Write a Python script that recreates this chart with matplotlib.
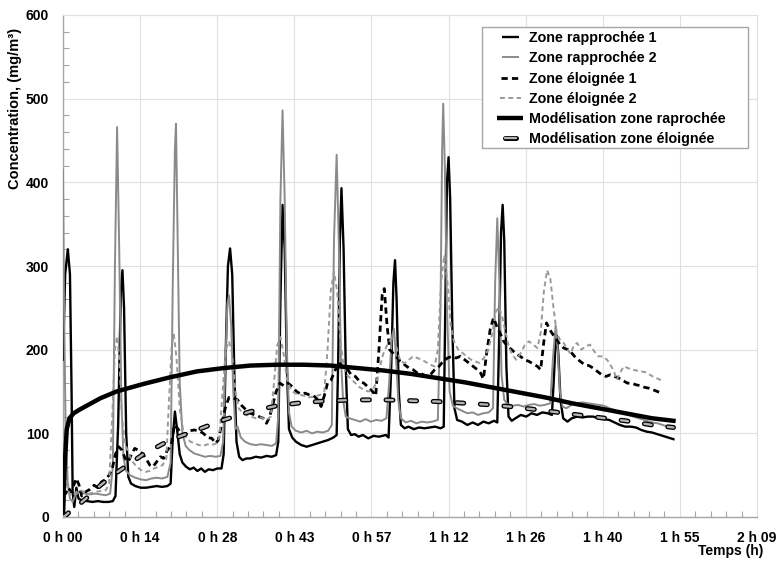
import matplotlib
matplotlib.use('Agg')
import matplotlib.pyplot as plt
from matplotlib.ticker import MultipleLocator
from matplotlib.lines import Line2D
from matplotlib.patches import Rectangle
from matplotlib.legend_handler import HandlerBase

plt.rcParams['font.family'] = ['Liberation Sans', 'DejaVu Sans']
plt.rcParams['lines.scale_dashes'] = False

# ---------------- data (time in minutes, concentration in mg/m3) ----------------
x_ticks = [0, 14.4, 28.8, 43.2, 57.6, 72.0, 86.4, 100.8, 115.2, 129.6]
x_tick_labels = ["0 h 00", "0 h 14", "0 h 28", "0 h 43", "0 h 57",
                 "1 h 12", "1 h 26", "1 h 40", "1 h 55", "2 h 09"]
y_ticks = [0, 100, 200, 300, 400, 500, 600]

labels = ["Zone rapprochée 1", "Zone rapprochée 2", "Zone éloignée 1",
          "Zone éloignée 2", "Modélisation zone raprochée", "Modélisation zone éloignée"]

t_r1 = [0.0, 0.4, 0.9, 1.3, 1.6, 1.8, 2.1, 2.5, 2.9, 3.5, 4.5, 5.5, 6.5, 7.5, 8.5, 9.3, 9.8,
        10.3, 10.8, 11.1, 11.4, 11.8, 12.2, 12.7, 13.5, 14.5, 15.5, 16.5, 17.5, 18.5, 19.5,
        20.1, 20.5, 20.9, 21.3, 21.8, 22.3, 23.0, 23.7, 24.4, 25.1, 25.8, 26.5, 27.2, 28.0,
        28.8, 29.6, 30.0, 30.4, 30.8, 31.2, 31.6, 32.0, 32.4, 32.9, 33.5, 34.3, 35.0, 36.0,
        37.0, 38.0, 39.0, 39.8, 40.2, 40.6, 41.0, 41.4, 41.8, 42.2, 42.8, 43.5, 44.5, 45.5,
        46.5, 47.5, 48.5, 49.5, 50.5, 51.1, 51.4, 51.7, 52.0, 52.4, 52.8, 53.2, 53.8, 54.5,
        55.2, 56.0, 57.0, 58.0, 59.0, 60.3, 60.8, 61.3, 61.7, 62.0, 62.3, 62.7, 63.1, 63.8,
        64.5, 65.5, 66.5, 67.5, 68.5, 69.5, 70.5, 71.1, 71.4, 71.7, 72.0, 72.3, 72.7, 73.1,
        73.6, 74.5, 75.5, 76.5, 77.5, 78.5, 79.5, 80.5, 81.1, 81.4, 81.8, 82.1, 82.4, 82.8,
        83.2, 83.8, 84.5, 85.5, 86.5, 87.5, 88.5, 89.5, 90.5, 91.3, 91.7, 92.0, 92.2, 92.5,
        92.9, 93.4, 94.2, 95.0, 96.0, 97.0, 98.0, 99.0, 100.0, 101.0, 102.0, 103.0, 104.0,
        105.0, 106.0, 107.0, 108.0, 109.0, 110.0, 111.0, 112.0, 113.0, 114.0]
v_r1 = [188, 290, 320, 290, 150, 30, 12, 35, 22, 20, 19, 18, 19, 18, 18, 19, 25,
        110, 270, 295, 250, 100, 48, 40, 37, 35, 35, 36, 37, 36, 37,
        40, 95, 126, 105, 75, 65, 60, 57, 59, 55, 58, 54, 57, 56,
        58, 58, 75, 200, 300, 321, 290, 170, 90, 72, 68, 70, 70, 72,
        71, 73, 72, 74, 90, 260, 373, 320, 180, 105, 95, 90, 86, 84,
        86, 88, 90, 92, 95, 98, 190, 330, 393, 320, 180, 105, 98, 99,
        96, 98, 94, 97, 96, 98, 95, 180, 280, 307, 260, 150, 110, 106,
        108, 105, 107, 106, 107, 108, 106, 108, 250, 400, 430, 380, 230, 130,
        116, 114, 110, 113, 110, 114, 112, 115, 113, 200, 340, 373, 330, 180,
        120, 115, 118, 122, 120, 124, 122, 125, 124, 122, 170, 210, 217, 195,
        140, 118, 114, 118, 120, 119, 120, 120, 118, 117, 116, 113, 110,
        108, 108, 107, 104, 102, 101, 99, 97, 95, 93]

t_r2 = [0.0, 0.2, 0.5, 0.9, 1.3, 1.8, 2.3, 3.0, 4.0, 5.0, 6.0, 7.0, 8.0, 8.8, 9.3, 9.7, 10.1,
        10.5, 10.9, 11.3, 11.8, 12.5, 13.5, 14.5, 15.5, 16.5, 17.5, 18.5, 19.5, 20.1, 20.5,
        20.9, 21.1, 21.4, 21.8, 22.3, 22.9, 23.6, 24.5, 25.5, 26.5, 27.5, 28.5, 29.4, 29.9,
        30.3, 30.7, 31.0, 31.4, 31.8, 32.2, 32.6, 33.2, 34.0, 35.0, 36.0, 37.0, 38.0, 39.0,
        39.8, 40.2, 40.6, 41.0, 41.4, 41.8, 42.2, 42.7, 43.5, 44.5, 45.5, 46.5, 47.5, 48.5,
        49.5, 50.2, 50.6, 51.1, 51.5, 51.9, 52.3, 52.8, 53.5, 54.5, 55.5, 56.5, 57.5, 58.5,
        59.5, 60.4, 60.9, 61.4, 61.8, 62.2, 62.6, 63.1, 64.0, 65.0, 66.0, 67.0, 68.0, 69.0,
        70.0, 70.5, 70.8, 71.0, 71.3, 71.7, 72.2, 72.8, 73.5, 74.5, 75.5, 76.5, 77.5, 78.5,
        79.5, 80.3, 80.7, 81.1, 81.5, 81.9, 82.4, 83.0, 84.0, 85.0, 86.0, 87.0, 88.0, 89.0,
        90.0, 91.0, 91.5, 92.0, 92.4, 92.8, 93.3, 94.0, 95.0, 96.0, 97.0, 98.0, 99.0, 100.0,
        101.0, 102.0, 103.0, 104.0, 105.0, 106.0, 107.0, 108.0, 109.0, 110.0, 111.0, 112.0,
        113.0, 114.0]
v_r2 = [415, 250, 100, 40, 22, 18, 26, 30, 28, 27, 28, 27, 26, 28, 60, 300, 466,
        320, 140, 70, 55, 50, 47, 45, 44, 46, 47, 46, 48, 65, 280,
        440, 470, 340, 160, 100, 85, 80, 76, 74, 72, 73, 72, 73, 90,
        180, 255, 265, 230, 150, 105, 108, 95, 90, 87, 86, 87, 86, 85,
        88, 120, 380, 486, 380, 200, 125, 108, 103, 101, 103, 100, 102, 101,
        103, 110, 330, 433, 330, 190, 140, 120, 118, 116, 114, 117, 114, 116,
        115, 118, 160, 215, 225, 190, 140, 118, 113, 115, 112, 114, 113, 114,
        116, 250, 440, 494, 420, 250, 150, 133, 130, 127, 124, 125, 122, 124,
        125, 130, 280, 357, 280, 170, 140, 135, 133, 134, 132, 134, 135, 133,
        134, 136, 190, 229, 200, 150, 132, 130, 134, 136, 137, 136, 135, 134,
        133, 130, 128, 125, 123, 121, 119, 117, 115, 113, 112, 110,
        108, 107]

t_e1 = [0.0, 0.5, 1.0, 1.5, 2.0, 2.5, 3.0, 3.5, 4.2, 5.0, 5.8, 6.5, 7.2, 8.0, 8.6, 9.2, 9.8,
        10.4, 11.0, 11.6, 12.2, 12.8, 13.4, 14.0, 14.8, 15.5, 16.2, 16.8, 17.5, 18.2, 18.8,
        19.5, 20.2, 20.8, 21.4, 22.0, 22.8, 23.6, 24.5, 25.4, 26.2, 27.0, 27.8, 28.5, 29.0,
        29.6, 30.3, 31.0, 31.8, 32.6, 33.4, 34.2, 35.0, 35.8, 36.6, 37.4, 38.0, 38.6, 39.2,
        39.8, 40.5, 41.2, 42.0, 42.8, 43.6, 44.4, 45.2, 46.0, 46.8, 47.6, 48.2, 48.8, 49.4,
        50.0, 50.8, 51.5, 52.2, 53.0, 53.8, 54.6, 55.4, 56.2, 57.0, 57.8, 58.4, 59.0, 59.6,
        60.0, 60.5, 61.0, 61.6, 62.2, 63.0, 63.8, 64.6, 65.4, 66.2, 67.0, 67.8, 68.6, 69.4,
        70.2, 71.0, 71.8, 72.6, 73.4, 74.2, 75.0, 75.8, 76.6, 77.4, 78.0, 78.5, 79.2, 79.8,
        80.4, 81.0, 81.6, 82.3, 83.0, 83.8, 84.6, 85.4, 86.2, 87.0, 87.8, 88.6, 89.2, 89.8,
        90.3, 90.9, 91.5, 92.2, 92.8, 93.5, 94.3, 95.0, 95.8, 96.6, 97.4, 98.2, 99.0, 99.8,
        100.6, 101.4, 102.2, 103.0, 103.8, 104.6, 105.4, 106.2, 107.0, 107.8, 108.6, 109.4,
        110.2, 111.0, 111.8]
v_e1 = [30, 28, 35, 30, 38, 46, 38, 25, 30, 33, 38, 35, 42, 45, 50, 58, 75,
        84, 80, 70, 66, 75, 82, 80, 76, 70, 62, 60, 66, 72, 70,
        80, 85, 110, 106, 100, 98, 103, 104, 103, 100, 95, 94, 88, 92,
        110, 130, 143, 142, 140, 133, 128, 124, 122, 120, 118, 112, 120, 135,
        150, 160, 157, 160, 156, 150, 147, 148, 146, 145, 140, 132, 145, 160,
        163, 175, 185, 180, 178, 170, 168, 162, 160, 155, 150, 145, 200, 265,
        273, 230, 200, 196, 192, 186, 182, 178, 176, 172, 171, 168, 170, 176,
        180, 186, 190, 192, 190, 192, 188, 184, 180, 176, 172, 165, 200, 225,
        238, 228, 220, 210, 204, 200, 195, 192, 188, 186, 183, 180, 176, 210,
        232, 224, 218, 212, 206, 202, 200, 196, 190, 186, 182, 181, 178, 174,
        170, 168, 170, 168, 166, 163, 160, 160, 158, 157, 155, 154,
        152, 150, 148]

t_e2 = [0.0, 0.3, 0.7, 1.2, 1.8, 2.5, 3.2, 4.0, 5.0, 6.0, 7.0, 8.0, 8.6, 9.2, 9.7, 10.1,
        10.5, 11.0, 11.6, 12.3, 13.0, 13.8, 14.6, 15.4, 16.2, 17.0, 17.8, 18.6, 19.3, 19.8,
        20.3, 20.7, 21.2, 21.8, 22.4, 23.0, 23.8, 24.6, 25.4, 26.2, 27.0, 27.8, 28.6, 29.2,
        29.8, 30.4, 31.0, 31.6, 32.2, 32.8, 33.5, 34.3, 35.1, 36.0, 37.0, 38.0, 38.8, 39.4,
        40.0, 40.6, 41.2, 41.8, 42.5, 43.3, 44.2, 45.0, 46.0, 47.0, 48.0, 48.8, 49.4, 50.0,
        50.6, 51.2, 51.8, 52.4, 53.0, 53.8, 54.6, 55.4, 56.2, 57.0, 57.8, 58.5, 59.2, 59.8,
        60.5, 61.2, 61.8, 62.4, 63.0, 63.8, 64.6, 65.4, 66.2, 67.0, 67.8, 68.6, 69.4, 70.0,
        70.6, 71.2, 71.8, 72.4, 73.0, 73.8, 74.6, 75.4, 76.2, 77.0, 77.8, 78.6, 79.4, 80.2,
        80.8, 81.4, 82.0, 82.6, 83.2, 83.8, 84.6, 85.4, 86.2, 87.0, 87.8, 88.6, 89.2, 89.8,
        90.4, 91.0, 91.6, 92.2, 92.8, 93.5, 94.2, 94.8, 95.4, 96.0, 96.8, 97.6, 98.4, 99.2,
        100.0, 100.8, 101.6, 102.4, 103.0, 103.4, 104.0, 104.7, 105.5, 106.3, 107.2, 108.0,
        108.8, 109.6, 110.4, 111.2, 111.8]
v_e2 = [100, 70, 40, 28, 25, 30, 32, 30, 28, 30, 31, 32, 40, 120, 200, 216,
        190, 120, 88, 75, 66, 60, 56, 54, 55, 58, 60, 62, 70, 140,
        205, 218, 190, 130, 105, 95, 90, 88, 86, 85, 87, 86, 88, 95,
        150, 200, 210, 195, 150, 130, 125, 122, 120, 118, 119, 116, 120, 160,
        205, 215, 195, 165, 152, 148, 146, 145, 143, 144, 146, 150, 200, 270,
        293, 270, 210, 180, 170, 165, 160, 155, 152, 150, 152, 160, 180, 195,
        205, 212, 215, 200, 186, 184, 188, 192, 190, 188, 185, 182, 180, 200,
        280, 313, 280, 230, 210, 200, 196, 192, 188, 186, 184, 190, 200, 220,
        245, 251, 240, 222, 205, 195, 188, 195, 205, 210, 206, 202, 220, 270,
        295, 285, 250, 220, 212, 208, 200, 195, 205, 208, 200, 204, 206, 198,
        192, 192, 188, 180, 172, 164, 172, 180, 178, 176, 175, 174,
        173, 170, 167, 165, 163]

t_model = [0, 0.3, 0.7, 1.2, 2, 3, 5, 7, 10, 15, 20, 25, 30, 35, 40, 45, 50, 55, 60,
           65, 70, 75, 80, 85, 90, 95, 100, 105, 110, 114]
v_model_r = [0, 60, 105, 118, 124, 128, 135, 142, 150, 159, 167, 174, 178, 181, 182, 182,
             181, 178, 175, 171, 166, 161, 155, 149, 143, 136, 130, 124, 118, 115]
v_model_e = [0, 1, 3, 6, 10, 15, 26, 38, 53, 75, 92, 104, 116, 126, 133, 137, 139, 140,
             140, 139, 138, 136, 134, 131, 127, 123, 119, 115, 110, 107]

# ---------------- styles ----------------
st_r1 = dict(color='black', lw=1.7)
st_r2 = dict(color='#8a8a8a', lw=1.4)
st_e1 = dict(color='black', lw=2.0, dashes=(4.5, 3))
st_e2 = dict(color='#999999', lw=1.4, dashes=(3.5, 2.5))
st_mr = dict(color='black', lw=3.2)
ME_DASH = (5, 12)

# ---------------- figure ----------------
W, H = 779, 569
fig = plt.figure(figsize=(W / 100, H / 100), dpi=100)
ax = fig.add_axes([63 / W, 1 - 517 / H, 694 / W, 502 / H])

ax.plot(t_r1, v_r1, zorder=3, **st_r1)
ax.plot(t_r2, v_r2, zorder=4, **st_r2)
ax.plot(t_e1, v_e1, zorder=5, **st_e1)
ax.plot(t_e2, v_e2, zorder=6, **st_e2)
ax.plot(t_model, v_model_r, zorder=7, **st_mr)
ax.plot(t_model, v_model_e, color='black', lw=3.6, dashes=ME_DASH,
        dash_capstyle='round', zorder=8)
ax.plot(t_model, v_model_e, color='#b4b4b4', lw=1.7, dashes=ME_DASH,
        dash_capstyle='round', zorder=9)

ax.set_xlim(0, 129.6)
ax.set_ylim(0, 600)
ax.set_xticks(x_ticks)
ax.set_xticklabels(x_tick_labels, fontweight='bold', fontsize=10)
ax.set_yticks(y_ticks)
ax.set_yticklabels([str(v) for v in y_ticks], fontweight='bold', fontsize=10)
ax.xaxis.set_minor_locator(MultipleLocator(2.88))
ax.yaxis.set_minor_locator(MultipleLocator(20))
ax.tick_params(axis='x', which='major', length=0, pad=10)
ax.tick_params(axis='y', which='major', length=0, pad=10)
ax.tick_params(which='minor', direction='in', length=4, width=0.8, color='#a6a6a6')
ax.set_axisbelow(True)
ax.grid(which='major', color='#e0e0e0', lw=0.8)
for side in ['left', 'bottom']:
    ax.spines[side].set_color('#a6a6a6')
    ax.spines[side].set_linewidth(1.0)
for side in ['top', 'right']:
    ax.spines[side].set_color('#e0e0e0')
    ax.spines[side].set_linewidth(0.8)

fig.text(15 / W, 1 - 108 / H, "Concentration, (mg/m³)", rotation=90,
         ha='center', va='center', fontsize=10.5, fontweight='bold')
fig.text(731 / W, 1 - 551 / H, "Temps (h)", ha='center', va='center',
         fontsize=10, fontweight='bold')


# ---------------- legend ----------------
class ShortLineHandler(HandlerBase):
    """Legend sample drawn as a centred segment of a given pixel length."""

    def __init__(self, length_px, styles, capstyle='butt'):
        super().__init__()
        self.length_px = length_px
        self.styles = styles
        self.capstyle = capstyle

    def create_artists(self, legend, orig_handle, xdescent, ydescent, width, height,
                       fontsize, trans):
        cx = width / 2 - xdescent
        cy = height / 2 - ydescent
        half = self.length_px * 0.72 / 2  # pixels -> points (dpi 100)
        arts = []
        for st in self.styles:
            ln = Line2D([cx - half, cx + half], [cy, cy], transform=trans, **st)
            ln.set_solid_capstyle(self.capstyle)
            ln.set_dash_capstyle(self.capstyle)
            arts.append(ln)
        return arts


fig.add_artist(Rectangle((482 / W, 1 - 148 / H), 266 / W, 121 / H,
                         transform=fig.transFigure, facecolor='white',
                         edgecolor='#a6a6a6', lw=1.0, zorder=5))
proxies = [Line2D([], []) for _ in range(6)]
hmap = {
    proxies[0]: ShortLineHandler(17, [st_r1]),
    proxies[1]: ShortLineHandler(17, [st_r2]),
    proxies[2]: ShortLineHandler(19, [st_e1]),
    proxies[3]: ShortLineHandler(21, [st_e2]),
    proxies[4]: ShortLineHandler(26, [st_mr]),
    proxies[5]: ShortLineHandler(11, [dict(color='black', lw=3.6),
                                      dict(color='#b4b4b4', lw=1.7)], capstyle='round'),
}
leg = fig.legend(proxies, labels, handler_map=hmap,
                 loc='upper left', bbox_to_anchor=(496 / W, 1 - 31 / H),
                 borderpad=0, borderaxespad=0, frameon=False,
                 prop={'weight': 'bold', 'size': 10.3}, labelspacing=0.44,
                 handlelength=2.0, handletextpad=0.3)
leg.set_zorder(6)

fig.savefig('out.png', dpi=100)
